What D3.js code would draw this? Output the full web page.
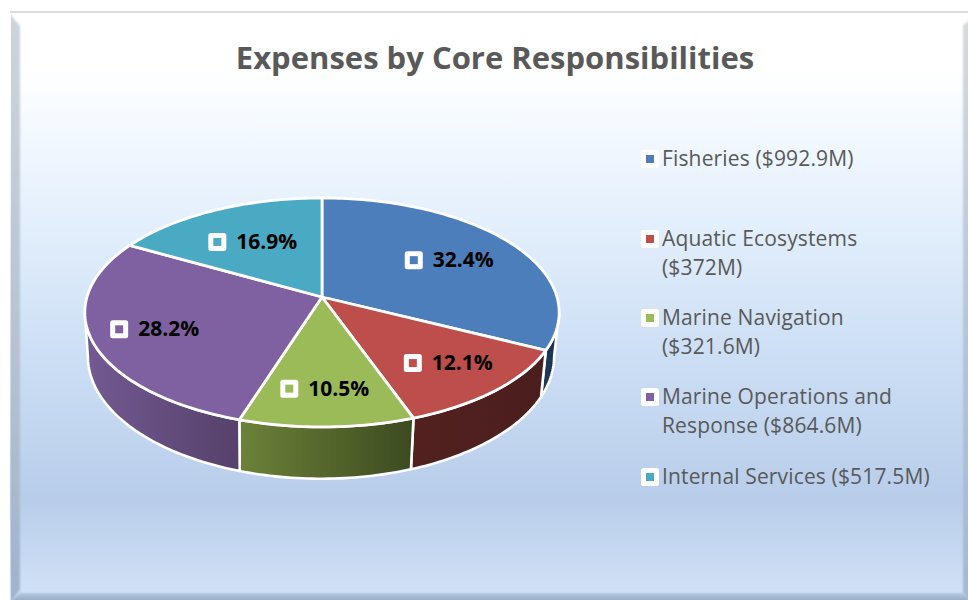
<!DOCTYPE html>
<html><head><meta charset="utf-8">
<script src="https://cdn.jsdelivr.net/npm/d3@7/dist/d3.min.js"></script>
<style>html,body{margin:0;padding:0;background:#fff}svg{display:block}text{font-family:"Open Sans",sans-serif}</style>
</head><body><svg id="c" width="968" height="600"></svg>
<script>
const categories = ["Fisheries","Aquatic Ecosystems","Marine Navigation","Marine Operations and Response","Internal Services"];
const expenses = [992.9,372,321.6,864.6,517.5];
const percentLabels = ["32.4%","12.1%","10.5%","28.2%","16.9%"];
const legendLines = [["Fisheries ($992.9M)"],["Aquatic Ecosystems","($372M)"],["Marine Navigation","($321.6M)"],["Marine Operations and","Response ($864.6M)"],["Internal Services ($517.5M)"]];
const topColors = ["#4c7ebb","#bd4e4b","#9bba58","#7f60a0","#4aaac4"];
const wallFrom = ["#1f3a5c","#52211f","#6c8239","#735a92","#3a8295"];
const wallTo = ["#1a2f4b","#4a1e1e","#3c4a20","#55416a","#2c6270"];
const title = "Expenses by Core Responsibilities";

const svg = d3.select("#c"), defs = svg.append("defs");
function grad(id,stops,x2,y2){const g=defs.append("linearGradient").attr("id",id).attr("x1",0).attr("y1",0).attr("x2",x2).attr("y2",y2);
  stops.forEach(s=>g.append("stop").attr("offset",s[0]).attr("stop-color",s[1]));return `url(#${id})`;}
defs.append("filter").attr("id","soft").attr("x","-10%").attr("y","-10%").attr("width","120%").attr("height","120%")
  .append("feGaussianBlur").attr("stdDeviation",1.2);
const bg = grad("bg",[[0,"#ffffff"],[.1,"#ffffff"],[.2,"#f3f9ff"],[.36,"#e3effc"],[.62,"#c9dcf3"],[.83,"#b8cdea"],[1,"#d3e2f7"]],0,1);
// panel
const clip = defs.append("clipPath").attr("id","panel");
clip.append("rect").attr("x",11).attr("y",11).attr("width",957).attr("height",589);
svg.append("rect").attr("x",10).attr("y",11).attr("width",958).attr("height",589).attr("fill",bg);
const bevels = svg.append("g").attr("clip-path","url(#panel)").append("g").attr("filter","url(#soft)");
bevels.append("path").attr("d","M9,13L20,26L20,590L9,603Z").attr("fill",grad("lbv",[[0,"#cfd4da"],[.5,"#b9c5d3"],[1,"#9fb3cc"]],0,1));
bevels.append("path").attr("d","M963,25L971,20L971,603L963,592Z").attr("fill",grad("rbv",[[0,"#d6d9dd"],[.5,"#b8c6d8"],[1,"#a3b8d2"]],0,1));
bevels.append("path").attr("d","M9,603L20,593L963,593L971,603Z").attr("fill",grad("bbv",[[0,"#b5c8e1"],[1,"#8fa4bd"]],0,1));
svg.append("rect").attr("x",10).attr("y",11).attr("width",958).attr("height",2).attr("fill","#dcdcdc");

// perspective disc projection
const persp = .135;
const topDisc = {cx:322,cy:297,rx:235,ry:112.4};
const baseDisc = {cx:321,cy:340,rx:231,ry:120};
function project(d,a,r=1){const X=Math.sin(a)*r,Y=-Math.cos(a)*r,w=1-persp*Y;return [d.cx+d.rx*X/w,d.cy+d.ry*Y/w];}
function samples(a0,a1){const n=Math.max(2,Math.ceil(Math.abs(a1-a0)/.02));return d3.range(n+1).map(i=>a0+(a1-a0)*i/n);}
const line = d3.line();
const arcs = d3.pie().sort(null).value(d=>d)(expenses);
const visLo = Math.PI/2+Math.asin(persp), visHi = 1.5*Math.PI-Math.asin(persp);

// walls
const walls = svg.append("g");
arcs.forEach((s,i)=>{
  const a0=Math.max(s.startAngle,visLo),a1=Math.min(s.endAngle,visHi);
  if(a1<=a0) return;
  const A=samples(a0,a1);
  const pts=A.map(a=>project(topDisc,a)).concat(A.slice().reverse().map(a=>project(baseDisc,a)));
  const xs=d3.extent(pts,p=>p[0]);
  const id="w"+i, g=defs.append("linearGradient").attr("id",id).attr("gradientUnits","userSpaceOnUse").attr("x1",xs[0]).attr("x2",xs[1]).attr("y1",0).attr("y2",0);
  g.append("stop").attr("offset",0).attr("stop-color",wallFrom[i]);
  g.append("stop").attr("offset",1).attr("stop-color",wallTo[i]);
  walls.append("path").attr("d",line(pts)+"Z").attr("fill",`url(#${id})`).attr("stroke","#fff").attr("stroke-width",2.6).attr("stroke-linejoin","round");
});
// top faces
const faces = svg.append("g");
arcs.forEach((s,i)=>{
  const pts=[[topDisc.cx,topDisc.cy]].concat(samples(s.startAngle,s.endAngle).map(a=>project(topDisc,a)));
  faces.append("path").attr("d",line(pts)+"Z").attr("fill",topColors[i]).attr("stroke","#fff").attr("stroke-width",2.8).attr("stroke-linejoin","round");
});
// percent labels
const labelRadius=[.67,.75,.72,.735,.62];
arcs.forEach((s,i)=>{
  const [x,y]=project(topDisc,(s.startAngle+s.endAngle)/2,labelRadius[i]);
  const g=svg.append("g").attr("transform",`translate(${x},${y+(i==2?2:i==1?-2:1)})`);
  g.append("rect").attr("x",-45).attr("y",-9).attr("width",18).attr("height",18).attr("rx",2.5).attr("fill","#fff");
  g.append("rect").attr("x",-40).attr("y",-4).attr("width",8).attr("height",8).attr("fill",topColors[i]);
  g.append("text").attr("x",-17).attr("y",7).attr("font-size",21).attr("font-weight",700).attr("fill","#000").text(percentLabels[i]);
});
// title
svg.append("text").attr("x",495).attr("y",69).attr("text-anchor","middle").attr("font-size",31).attr("font-weight",700).attr("fill","#595959").text(title);
// legend
const legendY = d3.scaleOrdinal().domain(categories).range([159,239,318,397,477]);
categories.forEach((c,i)=>{
  const y=legendY(c);
  const g=svg.append("g").attr("transform",`translate(641,${y})`);
  g.append("rect").attr("x",0).attr("y",-9).attr("width",18).attr("height",18).attr("rx",2.5).attr("fill","#fff");
  g.append("rect").attr("x",5).attr("y",-4).attr("width",8).attr("height",8).attr("fill",topColors[i]);
  legendLines[i].forEach((t,j)=>g.append("text").attr("x",21).attr("y",7+j*29).attr("font-size",21).attr("letter-spacing",.15).attr("fill","#595959").text(t));
});
</script></body></html>
